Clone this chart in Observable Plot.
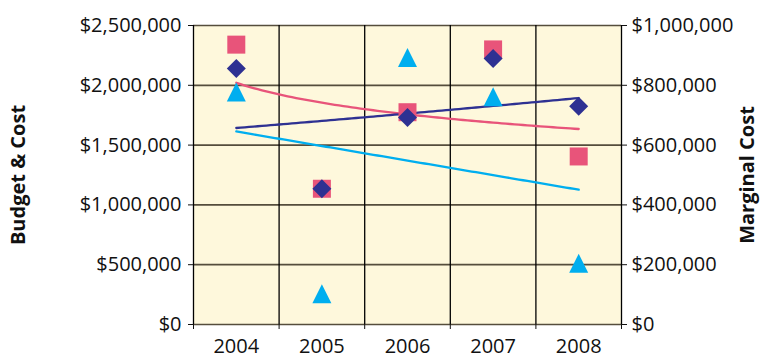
<!DOCTYPE html>
<html>
<head>
<meta charset="utf-8">
<script src="https://cdn.jsdelivr.net/npm/d3@7"></script>
<script src="https://cdn.jsdelivr.net/npm/@observablehq/plot@0.6"></script>
<style>
  html, body { margin: 0; padding: 0; background: #ffffff; }
</style>
</head>
<body>
<div id="chart"></div>
<script>
// ---- data ----
const years = [2004, 2005, 2006, 2007, 2008];
const budget = [2340000, 1135000, 1775000, 2300000, 1405000];      // pink squares (left axis)
const cost = [2140000, 1135000, 1730000, 2225000, 1825000];        // dark-blue diamonds (left axis)
const marginalCost = [778000, 103000, 893000, 762000, 205000];     // cyan triangles (right axis)
const leftTicks = [0, 500000, 1000000, 1500000, 2000000, 2500000];
const rightTicks = [0, 200000, 400000, 600000, 800000, 1000000];
const leftTitle = "Budget & Cost";
const rightTitle = "Marginal Cost";

// ---- derived ----
const ratio = leftTicks[leftTicks.length - 1] / rightTicks[rightTicks.length - 1];
const bounds = years.map(y => y - 0.5).concat([years[years.length - 1] + 0.5]);
const fmt = d3.format("$,");

const pts = (vals, k = 1) => years.map((y, i) => ({year: y, value: vals[i] * k}));

// least-squares fit of fy(value) against fx(t), t = 1..n
function fit(vals, fx, fy) {
  const X = vals.map((_, i) => fx(i + 1));
  const Y = vals.map(v => fy(v));
  const mx = d3.mean(X), my = d3.mean(Y);
  const b = d3.sum(X, (x, i) => (x - mx) * (Y[i] - my)) / d3.sum(X, x => (x - mx) ** 2);
  return {a: my - b * mx, b};
}
const t0 = years[0] - 1;
const samples = d3.range(years[0], years[years.length - 1] + 1e-9, 0.05);

const logFit = fit(budget, Math.log, v => v);                 // logarithmic trend
const expFit = fit(cost, t => t, Math.log);                   // exponential trend
const linFit = fit(marginalCost, t => t, v => v);             // linear trend

const budgetTrend = samples.map(x => ({year: x, value: logFit.a + logFit.b * Math.log(x - t0)}));
const costTrend = samples.map(x => ({year: x, value: Math.exp(expFit.a + expFit.b * (x - t0))}));
const marginalTrend = samples.map(x => ({year: x, value: (linFit.a + linFit.b * (x - t0)) * ratio}));

// custom marker shapes (r = half extent)
const half = size => Math.sqrt(size / Math.PI);
const squareSym = {draw(c, s) { const r = half(s); c.moveTo(-r, -r); c.lineTo(r, -r); c.lineTo(r, r); c.lineTo(-r, r); c.closePath(); }};
const diamondSym = {draw(c, s) { const r = half(s); c.moveTo(0, -r); c.lineTo(r, 0); c.lineTo(0, r); c.lineTo(-r, 0); c.closePath(); }};
const triangleSym = {draw(c, s) { const r = half(s); c.moveTo(0, -r); c.lineTo(r, r); c.lineTo(-r, r); c.closePath(); }};

const PINK = "#e8547a", NAVY = "#2e3192", CYAN = "#00aeef";
const INK = "#111111";

const chart = Plot.plot({
  width: 760,
  height: 358,
  marginLeft: 193,
  marginRight: 139,
  marginTop: 25,
  marginBottom: 34,
  x: {domain: [bounds[0], bounds[bounds.length - 1]]},
  y: {domain: [leftTicks[0], leftTicks[leftTicks.length - 1]]},
  style: {fontFamily: "'Open Sans', sans-serif", fontSize: "20px", background: "#ffffff", color: INK},
  marks: [
    Plot.frame({fill: "#fef8dc", stroke: null}),
    Plot.gridY(leftTicks, {stroke: "#554d3c", strokeOpacity: 1, strokeWidth: 1.7}),
    Plot.gridX(bounds, {stroke: "#000000", strokeOpacity: 1, strokeWidth: 1.3}),
    Plot.axisY(leftTicks, {anchor: "left", tickSize: 5, tickPadding: 7, tickFormat: fmt, label: null, fontSize: 20}),
    Plot.axisY(rightTicks.map(v => v * ratio), {anchor: "right", tickSize: 5, tickPadding: 5, tickFormat: d => fmt(Math.round(d / ratio)), label: null, fontSize: 20}),
    Plot.axisX(bounds, {tickSize: 5, tickFormat: () => "", label: null}),
    Plot.axisX(years, {tickSize: 0, tickPadding: 14, tickFormat: d => String(d), label: null, fontSize: 20}),
    Plot.line(budgetTrend, {x: "year", y: "value", stroke: PINK, strokeWidth: 2.3}),
    Plot.line(costTrend, {x: "year", y: "value", stroke: NAVY, strokeWidth: 2.3}),
    Plot.line(marginalTrend, {x: "year", y: "value", stroke: CYAN, strokeWidth: 2.3}),
    Plot.dot(pts(budget), {x: "year", y: "value", symbol: squareSym, r: 9, fill: PINK, stroke: null}),
    Plot.dot(pts(cost), {x: "year", y: "value", symbol: diamondSym, r: 9.5, fill: NAVY, stroke: null}),
    Plot.dot(pts(marginalCost, ratio), {x: "year", y: "value", symbol: triangleSym, r: 9.5, fill: CYAN, stroke: null}),
    Plot.text([leftTitle], {frameAnchor: "left", dx: -175, rotate: -90, textAnchor: "middle", lineAnchor: "middle", fontWeight: "bold", fontSize: 20, fill: INK}),
    Plot.text([rightTitle], {frameAnchor: "right", dx: 126, rotate: -90, textAnchor: "middle", lineAnchor: "middle", fontWeight: "bold", fontSize: 20, fill: INK})
  ]
});
document.getElementById("chart").appendChild(chart);
</script>
</body>
</html>
